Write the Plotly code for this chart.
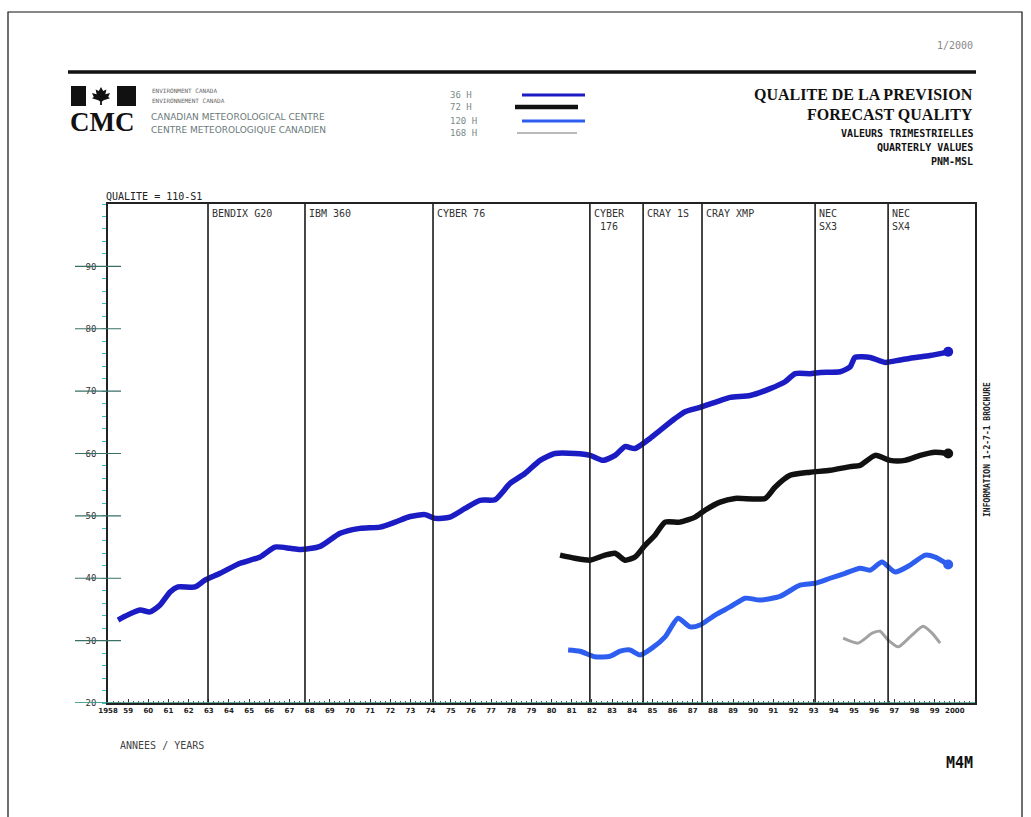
import plotly.graph_objects as go

# ---- data -------------------------------------------------------------
series_labels = ["36 H", "72 H", "120 H", "168 H"]
series_colors = ["#1c1cc4", "#111111", "#2d5ef0", "#a2a2a2"]
series_widths = [5.5, 5.5, 5, 3]

years_36 = [1958.50, 1958.84, 1959.59, 1960.08, 1960.58, 1961.08, 1961.47, 1962.32,
            1962.81, 1963.56, 1964.55, 1965.54, 1966.28, 1967.03, 1967.52, 1968.52,
            1969.51, 1970.50, 1971.49, 1972.24, 1972.98, 1973.72, 1974.22, 1974.96,
            1975.71, 1976.45, 1977.20, 1977.94, 1978.68, 1979.43, 1980.17, 1981.16,
            1981.91, 1982.55, 1983.15, 1983.64, 1984.14, 1984.88, 1985.38, 1986.12,
            1986.62, 1987.36, 1988.11, 1988.85, 1989.85, 1990.84, 1991.58, 1992.08,
            1992.82, 1993.32, 1994.31, 1994.81, 1995.05, 1995.80, 1996.54, 1997.29,
            1998.03, 1998.77, 1999.67]
qual_36 = [33.3, 33.9, 34.9, 34.6, 35.7, 37.8, 38.6, 38.6,
           39.7, 40.8, 42.4, 43.4, 45.0, 44.8, 44.6, 45.1,
           47.2, 48.0, 48.2, 49.0, 49.9, 50.2, 49.6, 49.8,
           51.2, 52.5, 52.6, 55.2, 56.8, 58.9, 60.0, 60.0,
           59.7, 58.9, 59.7, 61.1, 60.8, 62.4, 63.7, 65.6,
           66.7, 67.4, 68.2, 69.0, 69.3, 70.4, 71.5, 72.8,
           72.8, 73.0, 73.1, 73.9, 75.4, 75.4, 74.6, 75.0,
           75.4, 75.7, 76.3]

years_72 = [1980.42, 1981.16, 1981.91, 1982.65, 1983.15, 1983.64, 1984.14, 1984.64,
            1985.13, 1985.63, 1986.37, 1987.12, 1987.61, 1988.36, 1989.10, 1990.59,
            1991.08, 1991.83, 1992.82, 1993.81, 1994.81, 1995.30, 1996.05, 1996.79,
            1997.53, 1998.28, 1999.02, 1999.67]
qual_72 = [43.7, 43.2, 42.9, 43.7, 44.0, 42.9, 43.4, 45.3,
           46.9, 49.0, 49.0, 49.8, 50.9, 52.2, 52.8, 52.8,
           54.6, 56.5, 57.0, 57.3, 57.9, 58.1, 59.7, 58.9,
           58.9, 59.7, 60.2, 60.0]

years_120 = [1980.82, 1981.41, 1982.16, 1982.90, 1983.40, 1983.89, 1984.39, 1984.98,
             1985.63, 1986.27, 1986.87, 1987.36, 1988.11, 1988.85, 1989.60, 1990.34,
             1991.33, 1992.32, 1993.07, 1993.81, 1994.56, 1995.30, 1995.80, 1996.39,
             1997.04, 1997.78, 1998.53, 1999.02, 1999.67]
qual_120 = [28.5, 28.3, 27.4, 27.5, 28.3, 28.5, 27.7, 28.8,
            30.6, 33.6, 32.2, 32.5, 34.1, 35.4, 36.8, 36.5,
            37.1, 38.9, 39.2, 40.0, 40.8, 41.6, 41.3, 42.6,
            41.0, 42.1, 43.7, 43.4, 42.2]

years_168 = [1994.46, 1995.20, 1995.90, 1996.29, 1996.69, 1997.19, 1997.78, 1998.43,
             1998.87, 1999.27]
qual_168 = [30.4, 29.6, 31.2, 31.5, 30.1, 29.0, 30.6, 32.3, 31.2, 29.6]

computer_years = [1962.96, 1967.77, 1974.12, 1981.90, 1984.54, 1987.46, 1993.07, 1996.69]
computer_names = ["BENDIX G20", "IBM 360", "CYBER 76", "CYBER<br>176", "CRAY 1S",
                  "CRAY XMP", "NEC<br>SX3", "NEC<br>SX4"]
computer_align = ["left", "left", "left", "center", "left", "left", "left", "left"]

year_ticks = list(range(1958, 2001))
year_labels = ["1958"] + [str(y)[2:] for y in range(1959, 2000)] + ["2000"]
quality_ticks = [20, 30, 40, 50, 60, 70, 80, 90]
quality_labels = [str(v) for v in quality_ticks]

# ---- page geometry helpers (pixel -> paper) ----------------------------
W, H = 1031, 817
L, R, T, B = 108, 975, 204, 703


def px(x):
    return (x - L) / (R - L)


def py(y):
    return (B - y) / (B - T)


MONO = "DejaVu Sans Mono"
SERIF = "Liberation Serif"

fig = go.Figure()

series = [(years_36, qual_36), (years_72, qual_72), (years_120, qual_120), (years_168, qual_168)]
for i, (xs, ys) in enumerate(series):
    fig.add_trace(go.Scatter(
        x=xs, y=ys, mode="lines", name=series_labels[i],
        line=dict(color=series_colors[i], width=series_widths[i], shape="spline", smoothing=0.6),
        showlegend=False, hoverinfo="skip"))
    if i < 3:
        fig.add_trace(go.Scatter(
            x=[xs[-1]], y=[ys[-1]], mode="markers",
            marker=dict(color=series_colors[i], size=10),
            showlegend=False, hoverinfo="skip"))

shapes = []
annotations = []

# computer era separators
for yr, name, al in zip(computer_years, computer_names, computer_align):
    shapes.append(dict(type="line", xref="x", yref="y", x0=yr, x1=yr, y0=20, y1=100,
                       line=dict(color="#1a1a1a", width=1.6)))
    annotations.append(dict(x=yr, y=py(206), xref="x", yref="paper", text=name,
                            showarrow=False, xanchor="left", yanchor="top", xshift=2,
                            align=al, font=dict(family=MONO, size=10, color="#333333")))

# long y tick rules
for v in quality_ticks:
    shapes.append(dict(type="line", xref="paper", yref="y", x0=px(75), x1=px(121), y0=v, y1=v,
                       line=dict(color="#2f8f80" if v == 20 else "#3a6f68", width=1.2)))
shapes.append(dict(type="line", xref="paper", yref="y", x0=px(75), x1=1, y0=20, y1=20,
                   line=dict(color="#3a9a88", width=1.4)))

# page frame and header rule
shapes.append(dict(type="rect", xref="paper", yref="paper", x0=px(8), x1=px(1022),
                   y0=py(830), y1=py(12), line=dict(color="#111111", width=1.2)))
shapes.append(dict(type="line", xref="paper", yref="paper", x0=px(68), x1=px(976),
                   y0=py(72), y1=py(72), line=dict(color="#111111", width=3.5)))

# flag emblem
shapes.append(dict(type="rect", xref="paper", yref="paper", x0=px(71), x1=px(86),
                   y0=py(106), y1=py(86), fillcolor="#111111", line=dict(width=0)))
shapes.append(dict(type="rect", xref="paper", yref="paper", x0=px(117), x1=px(136),
                   y0=py(106), y1=py(86), fillcolor="#111111", line=dict(width=0)))
leaf = [(0, -0.5), (0.12, -0.28), (0.3, -0.36), (0.24, -0.1), (0.5, -0.16), (0.4, 0.05),
        (0.5, 0.12), (0.15, 0.24), (0.05, 0.3), (0.05, 0.5), (-0.05, 0.5), (-0.05, 0.3),
        (-0.15, 0.24), (-0.5, 0.12), (-0.4, 0.05), (-0.5, -0.16), (-0.24, -0.1),
        (-0.3, -0.36), (-0.12, -0.28)]
cx, cy, s = 101, 96, 18
path = "M " + " L ".join(f"{px(cx + a * s):.5f},{py(cy + b * s):.5f}" for a, b in leaf) + " Z"
shapes.append(dict(type="path", xref="paper", yref="paper", path=path,
                   fillcolor="#111111", line=dict(width=0)))

# legend: label text then sample line
leg_rows = [95, 107, 121, 133]
leg_x = [(522, 585), (515, 578), (522, 585), (517, 577)]
leg_w = [3, 4.5, 3, 1.5]
for i, lab in enumerate(series_labels):
    annotations.append(dict(x=px(448), y=py(leg_rows[i]), xref="paper", yref="paper",
                            text=lab, showarrow=False, xanchor="left", yanchor="middle",
                            font=dict(family=MONO, size=9, color="#7a8a8a")))
    shapes.append(dict(type="line", xref="paper", yref="paper",
                       x0=px(leg_x[i][0]), x1=px(leg_x[i][1]),
                       y0=py(leg_rows[i]), y1=py(leg_rows[i]),
                       line=dict(color=series_colors[i], width=leg_w[i])))


def text(x, y, t, size, family=MONO, color="#222222", xanchor="left", bold=False, angle=0):
    if bold:
        t = f"<b>{t}</b>"
    annotations.append(dict(x=px(x), y=py(y), xref="paper", yref="paper", text=t,
                            showarrow=False, xanchor=xanchor, yanchor="middle",
                            textangle=angle, font=dict(family=family, size=size, color=color)))


text(975, 46, "1/2000", 10, color="#888888", xanchor="right")
text(68, 122, "CMC", 27, family=SERIF, color="#111111", bold=True)
text(150, 90, "ENVIRONMENT CANADA", 6, color="#666666")
text(150, 100, "ENVIRONNEMENT CANADA", 6, color="#666666")
text(149, 117, "CANADIAN METEOROLOGICAL CENTRE", 9, family="DejaVu Sans", color="#6a7a7a")
text(149, 130, "CENTRE METEOROLOGIQUE CANADIEN", 9, family="DejaVu Sans", color="#6a7a7a")

text(975, 94, "QUALITE DE LA PREVISION", 16, family=SERIF, color="#111111", xanchor="right", bold=True)
text(975, 115, "FORECAST QUALITY", 16, family=SERIF, color="#111111", xanchor="right", bold=True)
text(975, 133, "VALEURS TRIMESTRIELLES", 10, color="#111111", xanchor="right", bold=True)
text(975, 147, "QUARTERLY VALUES", 10, color="#111111", xanchor="right", bold=True)
text(975, 161, "PNM-MSL", 10, color="#111111", xanchor="right", bold=True)

text(104, 196, "QUALITE = 110-S1", 10, color="#222222")
text(118, 745, "ANNEES / YEARS", 10, color="#444444")
text(975, 763, "M4M", 15, color="#111111", xanchor="right", bold=True)
text(987, 450, "INFORMATION 1-2-7-1 BROCHURE", 8, color="#222222", xanchor="center",
     bold=True, angle=-90)

fig.update_layout(
    width=W, height=H,
    margin=dict(l=L, r=W - R, t=T, b=H - B, pad=0),
    paper_bgcolor="white", plot_bgcolor="white",
    shapes=shapes, annotations=annotations,
    xaxis=dict(range=[1958, 2001], tickmode="array", tickvals=year_ticks,
               ticktext=[f"<b>{t}</b>" for t in year_labels],
               tickangle=0, tickfont=dict(family="DejaVu Sans", size=7, color="#222222"),
               showgrid=False, zeroline=False, showline=True, mirror=True,
               linecolor="#222222", linewidth=1.5,
               ticks="inside", ticklen=4, tickcolor="#333333", tickwidth=1,
               minor=dict(dtick=0.25, ticks="inside", ticklen=2, tickcolor="#555555")),
    yaxis=dict(range=[20, 100], tickmode="array", tickvals=quality_ticks, ticktext=quality_labels,
               tickfont=dict(family=MONO, size=9, color="#333333"),
               showgrid=False, zeroline=False, showline=True, mirror=True,
               linecolor="#222222", linewidth=1.5, ticks="", ticklabelstandoff=8,
               minor=dict(dtick=2, ticks="outside", ticklen=4, tickcolor="#3cbcbc")),
)

fig.write_html("out.html")
